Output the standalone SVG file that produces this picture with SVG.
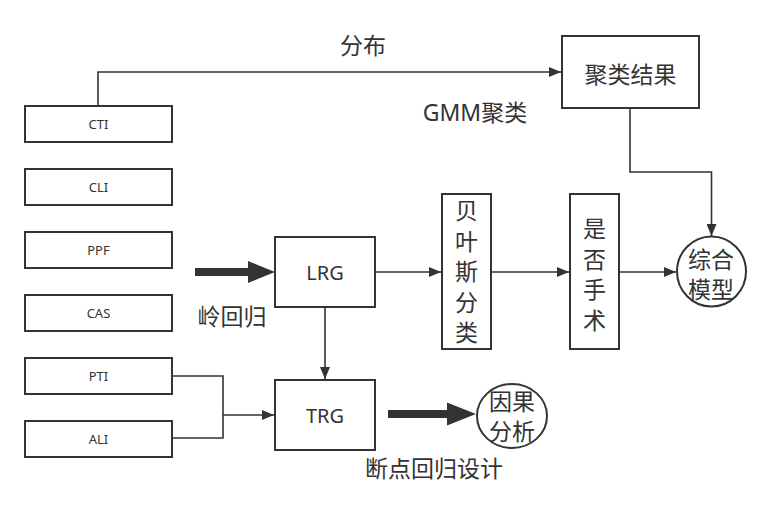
<svg xmlns="http://www.w3.org/2000/svg" width="772" height="511" viewBox="0 0 772 511">
<style>
.box{fill:#fff;stroke:#333;stroke-width:2}
.ln{fill:none;stroke:#333;stroke-width:1.6}
.t{font-family:"Noto Sans","Noto Sans CJK SC",sans-serif;fill:#333;text-anchor:middle;dominant-baseline:central}
.s{font-size:13px}
.m{font-size:20px}
.l{font-size:23px}
.thick{fill:#333}
</style>
<defs>
<marker id="ah" markerWidth="12" markerHeight="10" refX="12" refY="5" orient="auto" markerUnits="userSpaceOnUse">
<path d="M0,0 L12,5 L0,10 Z" fill="#333"/>
</marker>
</defs>
<rect width="772" height="511" fill="#fff"/>
<g id="connectors">
<path class="ln" d="M98,106 V72 H561" marker-end="url(#ah)"/>
<path class="ln" d="M630,108 V172 H711.5 V236" marker-end="url(#ah)"/>
<path class="ln" d="M375,272 H441" marker-end="url(#ah)"/>
<path class="ln" d="M491,272 H569" marker-end="url(#ah)"/>
<path class="ln" d="M619,272 H676" marker-end="url(#ah)"/>
<path class="ln" d="M325,307 V379" marker-end="url(#ah)"/>
<path class="ln" d="M172,376 H223 V438 H172"/>
<path class="ln" d="M223,415 H274" marker-end="url(#ah)"/>
<path class="thick" d="M195,268 H248 V261 L275,272 L248,283 V276 H195 Z"/>
<path class="thick" d="M388,410 H447 V402.5 L476,414 L447,425.5 V418 H388 Z"/>
</g>
<g id="labels">
<text class="t l" x="363" y="45">分布</text>
<text class="t l" x="475" y="112">GMM聚类</text>
<text class="t l" x="232" y="316">岭回归</text>
<text class="t l" x="434" y="468">断点回归设计</text>
</g>
<g id="n-cti"><rect class="box" x="25" y="106" width="147" height="36"/><text class="t s" x="98.5" y="124">CTI</text></g>
<g id="n-cli"><rect class="box" x="25" y="169" width="147" height="36"/><text class="t s" x="98.5" y="187">CLI</text></g>
<g id="n-ppf"><rect class="box" x="25" y="232" width="147" height="36"/><text class="t s" x="98.5" y="250">PPF</text></g>
<g id="n-cas"><rect class="box" x="25" y="295" width="147" height="36"/><text class="t s" x="98.5" y="313">CAS</text></g>
<g id="n-pti"><rect class="box" x="25" y="358" width="147" height="36"/><text class="t s" x="98.5" y="376">PTI</text></g>
<g id="n-ali"><rect class="box" x="25" y="421" width="147" height="36"/><text class="t s" x="98.5" y="439">ALI</text></g>
<g id="n-cluster"><rect class="box" x="562" y="36" width="137" height="72"/><text class="t l" x="630.5" y="74">聚类结果</text></g>
<g id="n-lrg"><rect class="box" x="275" y="237" width="100" height="70"/><text class="t m" x="325" y="272">LRG</text></g>
<g id="n-trg"><rect class="box" x="275" y="380" width="100" height="70"/><text class="t m" x="325" y="415">TRG</text></g>
<g id="n-bayes"><rect class="box" x="442" y="194" width="49" height="155"/>
<text class="t l" x="466.5" y="210">贝</text><text class="t l" x="466.5" y="240.5">叶</text><text class="t l" x="466.5" y="271">斯</text><text class="t l" x="466.5" y="301.5">分</text><text class="t l" x="466.5" y="332">类</text></g>
<g id="n-surgery"><rect class="box" x="570" y="194" width="49" height="155"/>
<text class="t l" x="594.5" y="228">是</text><text class="t l" x="594.5" y="258.5">否</text><text class="t l" x="594.5" y="289">手</text><text class="t l" x="594.5" y="319.5">术</text></g>
<g id="n-model"><ellipse class="box" cx="711.5" cy="271.5" rx="34.5" ry="35"/>
<text class="t l" x="711" y="258.5">综合</text><text class="t l" x="711" y="288.5">模型</text></g>
<g id="n-causal"><ellipse class="box" cx="512" cy="416" rx="35" ry="32"/>
<text class="t l" x="512" y="401">因果</text><text class="t l" x="512" y="431">分析</text></g>
</svg>
